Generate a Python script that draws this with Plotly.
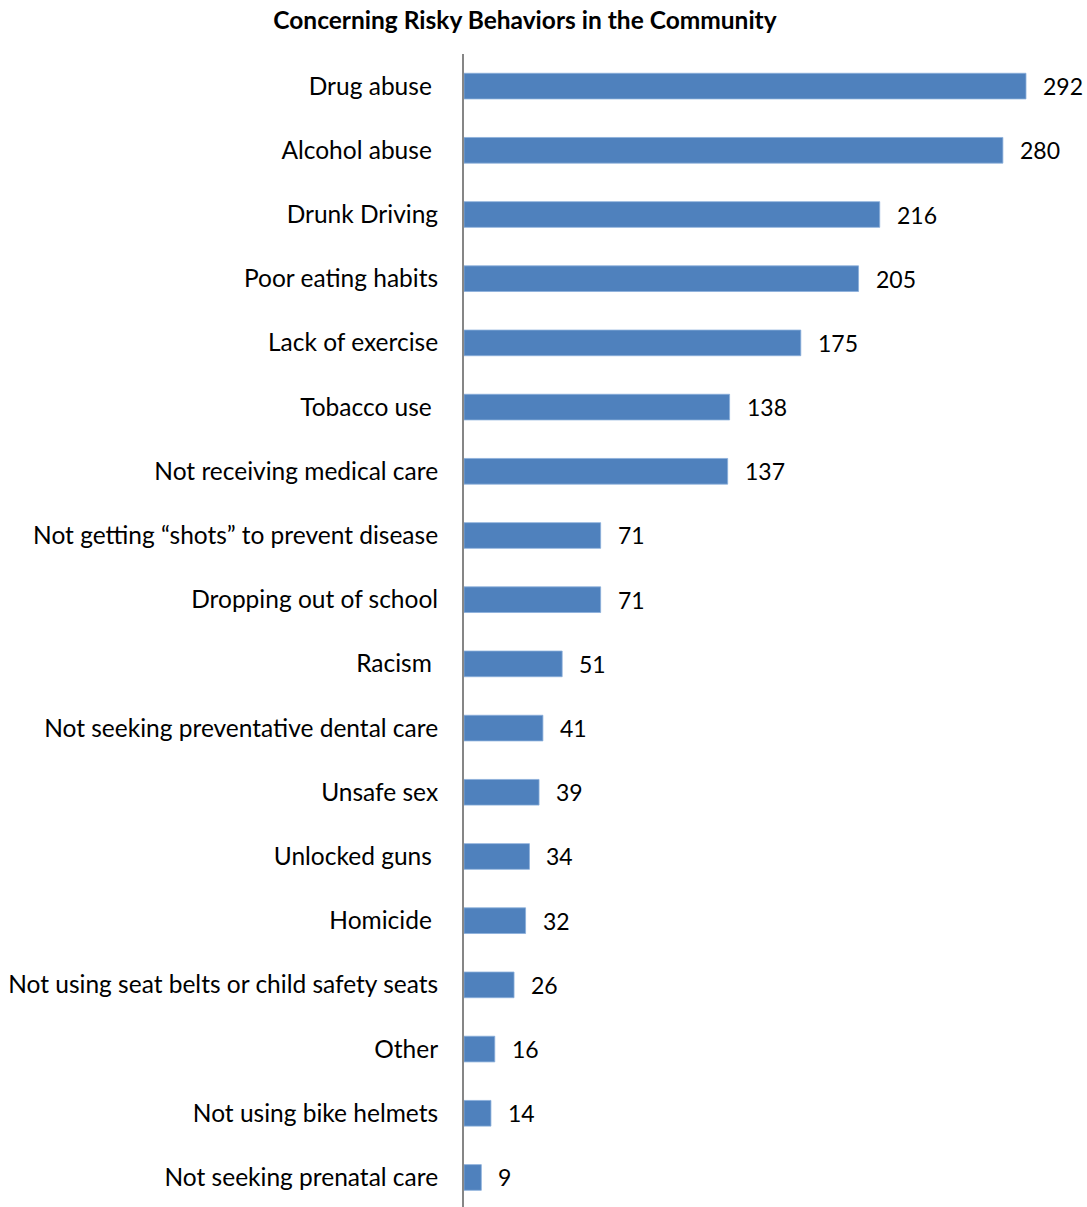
import plotly.graph_objects as go

# Survey responses: behaviours of most concern in the community
behaviors = [
    "Drug abuse\u00a0",
    "Alcohol abuse\u00a0",
    "Drunk Driving",
    "Poor eating habits",
    "Lack of exercise",
    "Tobacco use\u00a0",
    "Not receiving medical care",
    "Not getting \u201cshots\u201d to prevent disease",
    "Dropping out of school",
    "Racism\u00a0",
    "Not seeking preventative dental care",
    "Unsafe sex",
    "Unlocked guns\u00a0",
    "Homicide\u00a0",
    "Not using seat belts or child safety seats",
    "Other",
    "Not using bike helmets",
    "Not seeking prenatal care",
]
counts = [292, 280, 216, 205, 175, 138, 137, 71, 71, 51, 41, 39, 34, 32, 26, 16, 14, 9]

FONT = "Lato"
BAR_COLOR = "#4F81BD"

fig = go.Figure(
    go.Bar(
        x=counts,
        y=behaviors,
        orientation="h",
        marker=dict(color=BAR_COLOR, line=dict(color="#8AAEDB", width=0.8)),
        hoverinfo="x+y",
    )
)

# Value labels to the right of each bar
for label, value in zip(behaviors, counts):
    fig.add_annotation(
        x=value, y=label, xref="x", yref="y",
        text=str(value), showarrow=False,
        xanchor="left", yanchor="middle", xshift=15,
        font=dict(family=FONT, size=23, color="black"),
    )

fig.update_layout(
    width=1087,
    height=1207,
    margin=dict(l=464, r=0, t=54, b=0),
    paper_bgcolor="white",
    plot_bgcolor="white",
    bargap=0.6,
    showlegend=False,
    title=dict(
        text="<b>Concerning Risky Behaviors in the Community</b>",
        x=0.483, xanchor="center", xref="container",
        y=0.983, yanchor="middle", yref="container",
        font=dict(family=FONT, size=24.5, color="black"),
    ),
)

fig.update_xaxes(
    range=[0, 323.7],
    showgrid=False, zeroline=False, showline=False,
    showticklabels=False, ticks="",
)
fig.update_yaxes(
    type="category",
    categoryorder="array", categoryarray=behaviors,
    range=[17.46, -0.5],
    showgrid=False, zeroline=False,
    showline=True, linecolor="#868686", linewidth=2,
    ticks="", ticklabelstandoff=19,
    tickfont=dict(family=FONT, size=24.5, color="black"),
)

fig.write_html("out.html")
